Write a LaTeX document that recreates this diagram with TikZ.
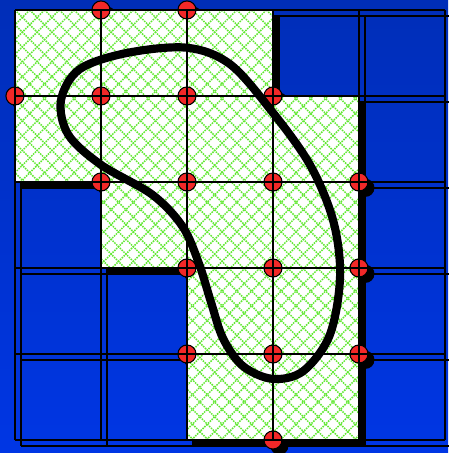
\documentclass[tikz,border=0pt]{standalone}
\usetikzlibrary{calc}
\definecolor{bgtop}{RGB}{0,46,184}
\definecolor{bgbot}{RGB}{0,54,228}
\definecolor{hatchgreen}{RGB}{96,232,48}
\definecolor{probered}{RGB}{242,40,40}
\newcommand{\cellgrid}[1]{% 5x5 cells, unit squares from (0,0) to (5,-5)
  \draw[#1] (0,0) grid (5,-5);
}
% outline of the hatched zone (in cell units)
\newcommand{\zonepath}{(0,0) -- (3,0) -- (3,-1) -- (4,-1) -- (4,-5) -- (2,-5)
  -- (2,-3) -- (1,-3) -- (1,-2) -- (0,-2) -- cycle}
\newcommand{\probelist}{1/0,2/0,0/1,1/1,2/1,3/1,1/2,2/2,3/2,4/2,2/3,3/3,4/3,2/4,3/4,4/4,3/5}
\tikzset{
  gridline/.style={line width=0.65pt, black},
  hatch/.style={line width=0.5pt, hatchgreen, dash pattern=on 0.5pt off 0.35pt},
  probe/.style={circle, draw=black, line width=0.35pt, fill=probered,
    minimum size=0.21cm, inner sep=0pt},
  loop/.style={line width=2.7pt, black}
}

\begin{document}
\begin{tikzpicture}[x=1cm,y=1cm]
  \useasboundingbox (-0.174,0.116) rectangle (5.035,-5.151);
  \shade[top color=bgtop, bottom color=bgbot] (-0.174,0.116) rectangle (5.035,-5.151);
  % drop shadow of everything
  \begin{scope}[shift={(0.075,-0.068)}]
    \cellgrid{gridline}
    \fill[black] \zonepath;
    \foreach \x/\y in \probelist
      \fill[black] (\x,-\y) circle (0.105);
  \end{scope}
  % hatched zone
  \fill[white] \zonepath;
  \begin{scope}
    \clip \zonepath;
    \foreach \k in {-30,...,55} {
      \draw[hatch] (\k*0.172,0) -- ++(-6,-6);
      \draw[hatch] (\k*0.172,0) -- ++(6,-6);
    }
  \end{scope}
  % grid nodes
  \foreach \x/\y [count=\n] in \probelist
    \node[probe] (p\n) at (\x,-\y) {};
  \cellgrid{gridline}
  % closed boundary curve
  \draw[loop] plot[smooth cycle, tension=0.55] coordinates {
    (2.000,-0.439) (2.50,-0.63) (2.98,-1.17) (3.43,-1.80)
    (3.70,-2.45) (3.78,-3.10) (3.66,-3.78) (3.35,-4.20)
    (2.994,-4.289) (2.65,-4.14) (2.42,-3.82) (2.28,-3.40)
    (2.14,-2.95) (1.95,-2.52) (1.60,-2.15) (1.00,-1.80)
    (0.62,-1.45) (0.535,-1.05) (0.75,-0.69) (1.30,-0.50)};
\end{tikzpicture}
\end{document}
